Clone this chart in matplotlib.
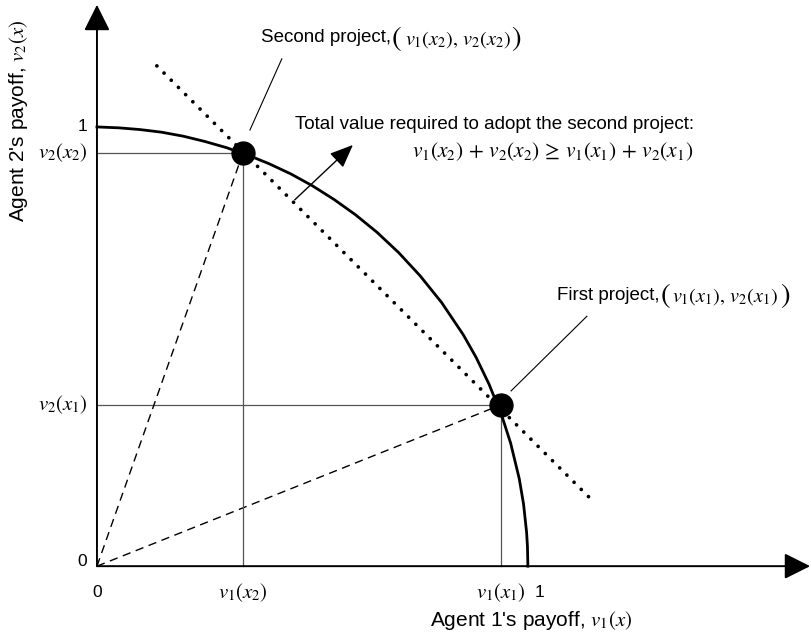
import matplotlib.pyplot as plt

plt.rcParams['font.family'] = ['Liberation Sans', 'DejaVu Sans']
plt.rcParams['mathtext.fontset'] = 'stix'

# frontier of feasible payoffs
frontier_v1 = [0.0, 0.05, 0.10, 0.15, 0.20, 0.25, 0.30, 0.35, 0.40, 0.45,
               0.50, 0.55, 0.60, 0.65, 0.70, 0.75, 0.80, 0.85, 0.88, 0.91,
               0.94, 0.96, 0.98, 0.99, 0.997, 0.999, 1.0]
frontier_v2 = [1.000, 0.998, 0.994, 0.988, 0.979, 0.967, 0.953, 0.936, 0.916,
               0.893, 0.866, 0.835, 0.800, 0.760, 0.714, 0.661, 0.600, 0.527,
               0.475, 0.414, 0.341, 0.280, 0.199, 0.141, 0.077, 0.045, 0.0]

# the two projects (v1, v2)
proj_v1 = [0.937, 0.339]   # first, second
proj_v2 = [0.367, 0.941]

# iso-total-value line
iso_v1 = [0.139, 1.144]
iso_v2 = [1.139, 0.155]

x_ticks = [0, 0.339, 0.937, 1.0]
x_tick_labels = ['0', r'$v_1(x_2)$', r'$v_1(x_1)$', '1']
y_ticks = [0, 0.367, 0.941, 1.0]
y_tick_labels = ['0', r'$v_2(x_1)$', r'$v_2(x_2)$', '1']

fig = plt.figure(figsize=(8.11, 6.36), dpi=100)
ax = fig.add_axes([0, 0, 1, 1])
ax.set_xlim(-0.225, 1.657)
ax.set_ylim(-0.159, 1.289)
ax.axis('off')

# axes with arrows
head = '-|>,head_length=1.0,head_width=0.5'
ax.annotate('', xy=(1.655, 0), xytext=(0, 0),
            arrowprops=dict(arrowstyle=head, lw=1.4, color='k',
                            mutation_scale=16, shrinkA=0, shrinkB=0))
ax.annotate('', xy=(0, 1.278), xytext=(0, 0),
            arrowprops=dict(arrowstyle=head, lw=1.4, color='k',
                            mutation_scale=16, shrinkA=0, shrinkB=0))

# guide lines to the axes
for px, py in zip(proj_v1, proj_v2):
    ax.plot([0, px], [py, py], color='#555555', lw=0.9)
    ax.plot([px, px], [0, py], color='#555555', lw=0.9)
    ax.plot([0, px], [0, py], color='k', lw=1.0, ls=(0, (6, 4)))

ax.plot(frontier_v1, frontier_v2, color='k', lw=2.0, solid_joinstyle='round')
ax.plot(iso_v1, iso_v2, color='k', lw=2.7, ls=(0, (0.01, 2.7)),
        dash_capstyle='round')
ax.plot(proj_v1, proj_v2, 'o', color='k', markersize=16.5, zorder=5)

# arrow showing increasing total value
ax.annotate('', xy=(0.594, 0.959), xytext=(0.459, 0.834),
            arrowprops=dict(arrowstyle='-|>,head_length=1.2,head_width=0.5',
                            lw=1.0, color='k', mutation_scale=12, shrinkA=0, shrinkB=0))

# tick labels
fs = 13.5
mfs = 15
for t, lab in zip(x_ticks, x_tick_labels):
    dx = 0.028 if lab == '1' else 0.0
    ax.text(t + dx, -0.06, lab, ha='center', va='center',
            fontsize=mfs if '$' in lab else 12.5)
for t, lab in zip(y_ticks, y_tick_labels):
    dy = 0.011 if lab == '0' else 0.0
    ax.text(-0.022, t + dy, lab, ha='right', va='center',
            fontsize=mfs if '$' in lab else 12.5)

ax.text(1.007, -0.123, r"Agent 1's payoff, $v_1(x)$", ha='center', va='center',
        fontsize=15)
ax.text(-0.183, 1.014, r"Agent 2's payoff, $v_2(x)$", ha='center', va='center',
        fontsize=15, rotation=90)

# annotations
ax.plot([0.429, 0.355], [1.155, 0.993], color='k', lw=0.8)
ax.text(0.381, 1.203, 'Second project,', ha='left', va='center', fontsize=fs)
ax.text(0.696, 1.200, '(', ha='center', va='center', fontsize=21, family='STIXGeneral')
ax.text(0.715, 1.200, r'$v_1(x_2),\, v_2(x_2)$', ha='left', va='center', fontsize=14.6)
ax.text(0.972, 1.200, ')', ha='center', va='center', fontsize=21, family='STIXGeneral')

ax.text(0.459, 1.005, 'Total value required to adopt the second project:',
        ha='left', va='center', fontsize=fs)
ax.text(1.058, 0.943, r'$v_1(x_2)\, +\, v_2(x_2)\, \geq\, v_1(x_1)\, +\, v_2(x_1)$',
        ha='center', va='center', fontsize=15.5)

ax.plot([1.137, 0.961], [0.569, 0.399], color='k', lw=0.8)
ax.text(1.067, 0.617, 'First project,', ha='left', va='center', fontsize=fs)
ax.text(1.320, 0.615, '(', ha='center', va='center', fontsize=21, family='STIXGeneral')
ax.text(1.334, 0.615, r'$v_1(x_1),\, v_2(x_1)$', ha='left', va='center', fontsize=14.6)
ax.text(1.597, 0.615, ')', ha='center', va='center', fontsize=21, family='STIXGeneral')

fig.savefig('out.png', dpi=100)
